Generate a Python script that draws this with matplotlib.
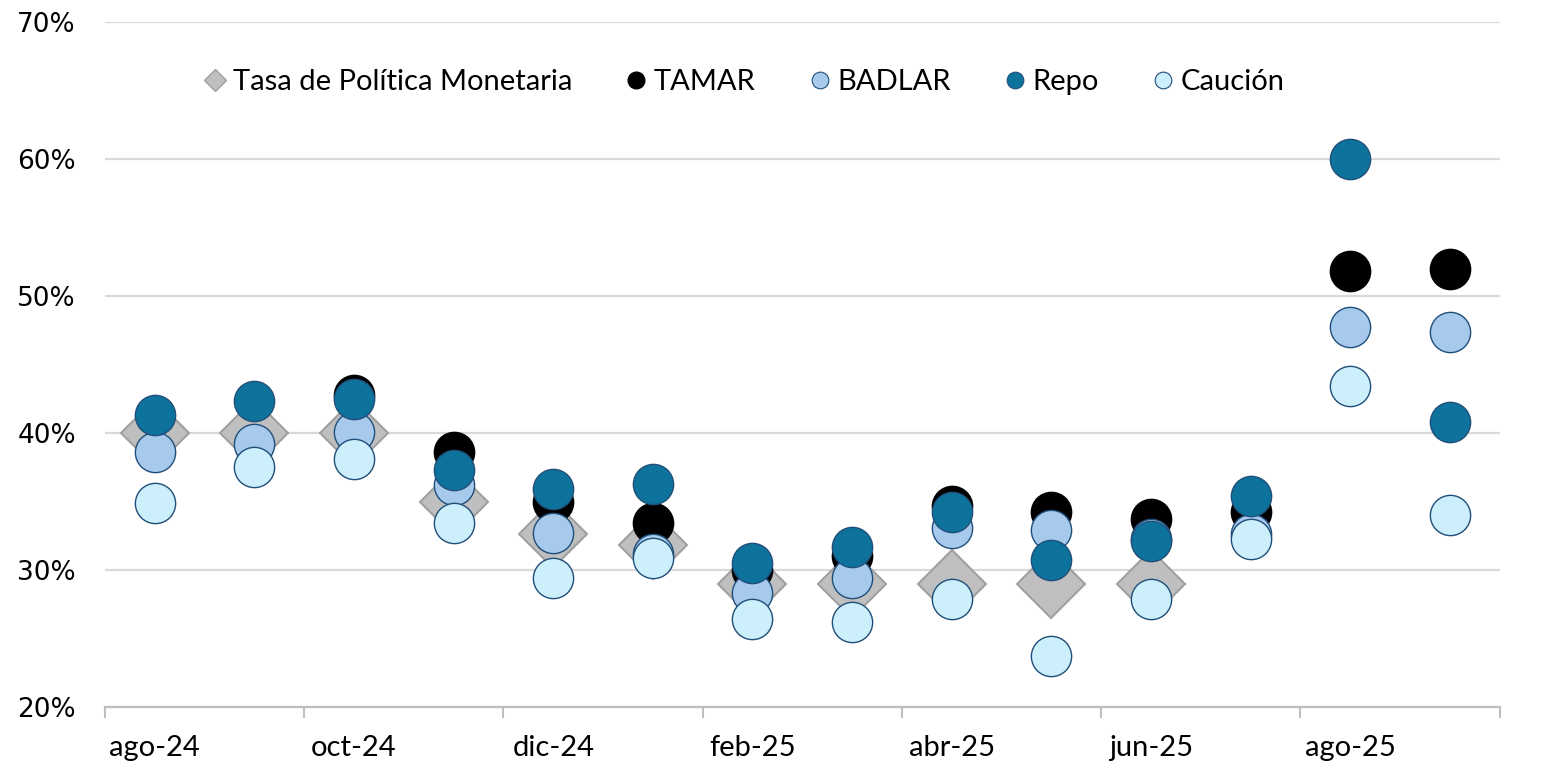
import numpy as np
import matplotlib.pyplot as plt
from matplotlib.lines import Line2D
from matplotlib.ticker import FuncFormatter

nan = np.nan
meses = ['ago-24', 'sep-24', 'oct-24', 'nov-24', 'dic-24', 'ene-25', 'feb-25',
         'mar-25', 'abr-25', 'may-25', 'jun-25', 'jul-25', 'ago-25', 'sep-25']

tpm = [40.0, 40.0, 40.0, 35.0, 32.6, 31.8, 29.0, 29.0, 29.0, 29.0, 29.0, nan, nan, nan]
tamar = [nan, nan, 42.8, 38.6, 35.0, 33.4, 30.0, 31.0, 34.7, 34.2, 33.7, 34.2, 51.8, 52.0]
badlar = [38.6, 39.2, 40.1, 36.2, 32.7, 31.2, 28.3, 29.4, 33.1, 32.9, 32.3, 32.6, 47.7, 47.4]
repo = [41.3, 42.3, 42.5, 37.3, 35.9, 36.3, 30.5, 31.7, 34.2, 30.7, 32.1, 35.4, 60.0, 40.8]
caucion = [34.9, 37.5, 38.1, 33.4, 29.4, 30.9, 26.4, 26.2, 27.9, 23.7, 27.9, 32.3, 43.4, 34.0]

fig = plt.figure(figsize=(15.67, 7.83), dpi=100)
ax = fig.add_axes([0.067, 0.097, 0.890, 0.875])

x = np.arange(len(meses))
edge = '#1F4E79'
ms = 29

ax.plot(x, tpm, 'D', ms=35, color='#BFBFBF', mec='#A0A0A0', mew=1.5, zorder=3)
ax.plot(x, tamar, 'o', ms=ms, color='black', mec='black', mew=1, zorder=4)
ax.plot(x, badlar, 'o', ms=ms, color='#A6C9EC', mec=edge, mew=1, zorder=5)
ax.plot(x, repo, 'o', ms=ms, color='#0E739C', mec=edge, mew=1, zorder=6)
ax.plot(x, caucion, 'o', ms=ms, color='#CDEFFC', mec=edge, mew=1, zorder=7)

ax.set_xlim(-0.5, 13.5)
ax.set_ylim(20, 70)
ax.set_yticks(range(20, 71, 10))
ax.yaxis.set_major_formatter(FuncFormatter(lambda v, p: f'{v:.0f}%'))
ax.tick_params(axis='y', length=0, pad=21, labelsize=19)
for lab in ax.get_yticklabels():
    lab.set_family('DejaVu Sans')
ax.grid(axis='y', color='#D9D9D9', lw=1.6, zorder=0)

ax.set_xticks(np.arange(-0.5, 13.6, 2))
ax.set_xticks(x[::2], minor=True)
ax.set_xticklabels([])
ax.set_xticklabels(meses[::2], minor=True, family='Lato', fontsize=21)
ax.tick_params(axis='x', which='major', length=8, width=1.5, color='#BFBFBF')
ax.tick_params(axis='x', which='minor', length=0, pad=20)

for s in ['left', 'right', 'top']:
    ax.spines[s].set_visible(False)
ax.spines['bottom'].set_color('#BFBFBF')
ax.spines['bottom'].set_linewidth(1.6)

handles = [
    Line2D([], [], ls='', marker='D', ms=11, color='#BFBFBF', mec='#A0A0A0'),
    Line2D([], [], ls='', marker='o', ms=12, color='black', mec='black'),
    Line2D([], [], ls='', marker='o', ms=12, color='#A6C9EC', mec=edge, mew=0.8),
    Line2D([], [], ls='', marker='o', ms=12, color='#0E739C', mec=edge, mew=0.8),
    Line2D([], [], ls='', marker='o', ms=12, color='#CDEFFC', mec=edge, mew=0.8),
]
labels = ['Tasa de Política Monetaria', 'TAMAR', 'BADLAR', 'Repo', 'Caución']
ax.legend(handles, labels, loc='center', bbox_to_anchor=(0.457, 0.912), ncol=5,
          frameon=False, prop={'family': 'Lato', 'size': 21}, handletextpad=0.1,
          columnspacing=1.7, handlelength=1.0)

fig.savefig('out.png', dpi=100)
